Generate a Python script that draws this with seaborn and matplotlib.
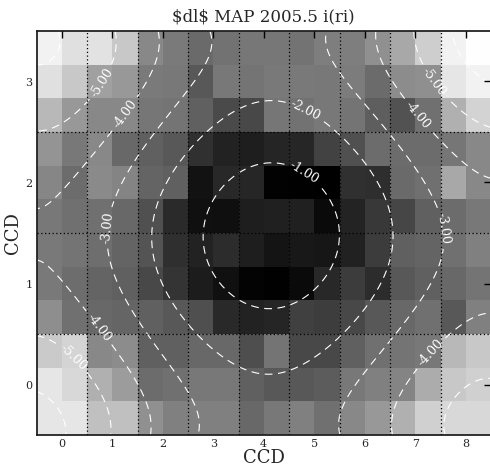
import numpy as np
import pandas as pd
import matplotlib
matplotlib.use("Agg")
import matplotlib.pyplot as plt
import seaborn as sns

# ---- data -------------------------------------------------------------
ccd_x = [0, 1, 2, 3, 4, 5, 6, 7, 8]
ccd_y = [0, 1, 2, 3]

# dl map, 12 rows (top -> bottom, y = 3.5 .. -0.5) x 18 columns (x = -0.5 .. 8.5)
dl_map = [
    [242, 224, 226, 200, 136, 122, 106, 114, 119, 119, 115, 126, 126, 144, 168, 206, 242, 254],
    [224, 200, 160, 152, 122, 120,  88, 120, 116, 121, 121, 120, 124, 107, 140, 143, 230, 242],
    [184, 152, 136, 136, 118, 116,  96,  74,  72, 118, 114, 120, 116,  94,  82, 112, 176, 211],
    [148, 120, 136, 104,  96,  88,  48,  34,  30,  37,  38,  66,  80, 108, 108, 108, 118, 136],
    [134, 108, 138, 132, 100,  96,  18,  40,  38,   2,   1,   0,  48,  46, 106, 112, 168, 136],
    [120, 112, 112, 104,  80,  42,  16,  15,  30,  32,  32,  10,  35,  56,  70,  96, 108, 120],
    [121, 116, 110, 100,  84,  47,  34,  44,  30,  20,  24,  22,  33,  60,  96, 100, 112, 128],
    [121, 109, 100,  96,  72,  52,  28,  16,   3,   1,  10,  40,  60,  44,  88,  96, 104, 116],
    [142, 112, 104, 101,  96,  88,  79,  41,  34,  37,  64,  61,  72,  88, 104, 112,  88, 128],
    [202, 212, 136, 140,  96,  96, 104, 104,  78, 116,  72,  72,  96, 112, 116, 120, 184, 200],
    [230, 216, 176, 156, 108, 112, 120, 120,  96,  88,  88,  92, 120, 128, 132, 172, 200, 208],
    [230, 230, 192, 192, 144, 128, 128, 128, 104, 120, 128, 112, 136, 152, 176, 208, 216, 216],
]

# points on the fitted dl surface (CCD x, CCD y, level)
surf_x = [2.81, 5.61, 4.27, 4.27, 2.88, 3.40, 5.28, 3.27, 5.31, 4.78,
          1.86, 6.60, 3.94, 4.27, 2.74, 5.91, 2.00, 2.38, 3.00, 3.87, 4.72, 5.51, 6.05, 5.25, 4.78,
          0.97, 1.30, 1.55, 2.10, 2.80, 0.96, 1.35, 1.75, 2.15, 2.48,
          7.58, 7.63, 7.23, 6.24, 5.12, 6.56, 5.57,
          1.90, 1.71, 1.30, 0.70, 0.42, -0.23, -0.23, 0.27, 0.76, 1.10, 1.75,
          6.37, 6.57, 7.03, 7.69, 8.28, 6.57, 6.90, 7.29, 7.69, 8.28,
          -0.23, 0.36, 0.80, 0.30, 0.76, 1.00, 7.33, 7.75, 8.28, 7.69, 8.22,
          -0.23, 0.03, -0.19, 0.07, 7.83, 7.95,
          4.22, 3.95, 4.20]
surf_y = [1.50, 1.50, 2.21, 0.78, 1.72, 2.09, 1.93, 0.96, 1.03, 2.09,
          1.50, 1.50, 2.78, 0.13, 2.43, 2.26, 1.82, 0.74, 0.44, 0.17, 0.17, 0.47, 0.80, 2.55, 2.68,
          1.50, 1.99, 2.25, 2.80, 3.34, 1.23, 0.77, 0.37, 0.04, -0.32,
          1.50, 1.33, 1.93, 2.63, 3.29, 0.50, -0.32,
          3.50, 3.12, 2.66, 2.36, 2.19, 1.95, 1.05, 0.86, 0.57, 0.21, -0.35,
          3.32, 3.03, 2.66, 2.29, 2.09, -0.45, 0.07, 0.32, 0.57, 0.66,
          2.52, 2.69, 2.99, 0.31, 0.01, -0.32, 2.98, 2.75, 2.60, -0.32, 0.07,
          3.19, 3.30, -0.19, -0.33, 3.32, 3.25,
          1.48, 3.50, -0.50]
surf_level = [-1] * 10 + [-2] * 15 + [-3] * 17 + [-4] * 21 + [-5] * 11 + [-6] * 6 + [-0.3, -2.7, -2.6]

contour_levels = [-6, -5, -4, -3, -2, -1]
label_spots = [(4.78, 2.09), (4.78, 2.68), (0.96, 1.55), (7.56, 1.55),
               (1.30, 2.66), (0.76, 0.57), (7.03, 2.66), (7.29, 0.32),
               (0.80, 2.99), (0.30, 0.31), (7.33, 2.98)]


# ---- helpers ----------------------------------------------------------
def design(x, y):
    u = (np.asarray(x, float) - 4.0) / 4.5
    v = (np.asarray(y, float) - 1.5) / 2.0
    return np.stack([u ** i * v ** j for i in range(5) for j in range(5 - i)], axis=-1)


def to_cell_x(x):
    return (np.asarray(x, float) + 0.5) * 2.0


def to_cell_y(y):
    return (3.5 - np.asarray(y, float)) * 3.0


coef = np.linalg.lstsq(design(surf_x, surf_y), np.asarray(surf_level, float), rcond=None)[0]

# ---- figure -----------------------------------------------------------
sns.set_style("white")
plt.rcParams["font.family"] = ["DejaVu Serif"]
plt.rcParams["axes.unicode_minus"] = False

fig = plt.figure(figsize=(4.9, 4.69), dpi=100)
ax = fig.add_axes([36.5 / 490, 34 / 469, (491 - 36.5) / 490, 404 / 469])

sns.heatmap(pd.DataFrame(dl_map), cmap="gray", vmin=0, vmax=255, cbar=False,
            ax=ax, xticklabels=False, yticklabels=False)

# smooth surface contours
gx = np.linspace(-0.5, 8.5, 361)
gy = np.linspace(-0.5, 3.5, 161)
GX, GY = np.meshgrid(gx, gy)
F = design(GX, GY) @ coef
cs = ax.contour(to_cell_x(GX), to_cell_y(GY), F, levels=contour_levels,
                colors="white", linewidths=0.8, linestyles=[(0, (7, 5))])
spots = [(float(to_cell_x(x)), float(to_cell_y(y))) for x, y in label_spots]
ax.clabel(cs, fmt="%1.2f", fontsize=9, colors="white", inline=True, manual=spots)

# axes, ticks, grid
ax.set_xlim(0, 18)
ax.set_ylim(12, 0)
ax.set_xticks(to_cell_x(ccd_x))
ax.set_xticklabels([str(c) for c in ccd_x], rotation=0)
ax.set_yticks(to_cell_y(ccd_y))
ax.set_yticklabels([str(c) for c in ccd_y], rotation=0)
ax.set_xticks(to_cell_x(np.array(ccd_x[:-1]) + 0.5), minor=True)
ax.set_yticks(to_cell_y(np.array(ccd_y[:-1]) + 0.5), minor=True)
ax.tick_params(which="major", direction="in", top=True, right=True, length=5,
               width=1, color="black", labelsize=8, pad=3)
ax.tick_params(which="minor", length=0)
ax.grid(which="minor", color="black", linestyle=(0, (1, 2)), linewidth=0.9)
ax.set_axisbelow(False)
for s in ax.spines.values():
    s.set_visible(True)
    s.set_color("#222222")
    s.set_linewidth(1.3)

ax.set_title(r"\$dl\$ MAP 2005.5 i(ri)", fontsize=12, pad=7)
ax.set_xlabel("CCD", fontsize=13, labelpad=0)
ax.set_ylabel("CCD", fontsize=13, labelpad=2)

fig.savefig("out.png", dpi=100)
